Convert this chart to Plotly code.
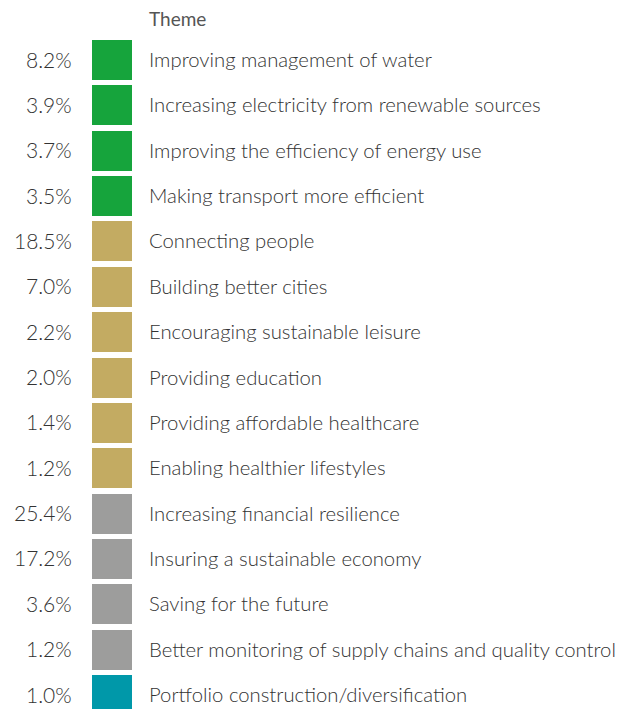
import plotly.graph_objects as go

# Portfolio themes, their share of assets and the group each belongs to
themes = [
    "Improving management of water",
    "Increasing electricity from renewable sources",
    "Improving the efficiency of energy use",
    "Making transport more efficient",
    "Connecting people",
    "Building better cities",
    "Encouraging sustainable leisure",
    "Providing education",
    "Providing affordable healthcare",
    "Enabling healthier lifestyles",
    "Increasing financial resilience",
    "Insuring a sustainable economy",
    "Saving for the future",
    "Better monitoring of supply chains and quality control",
    "Portfolio construction/diversification",
]
shares = [8.2, 3.9, 3.7, 3.5, 18.5, 7.0, 2.2, 2.0, 1.4, 1.2, 25.4, 17.2, 3.6, 1.2, 1.0]
groups = ["env"] * 4 + ["social"] * 6 + ["finance"] * 4 + ["other"]
group_colors = {"env": "#16a43c", "social": "#c3ab62", "finance": "#9d9d9c", "other": "#0098a9"}

W, H = 627, 709
row_top, row_step = 60.0, 45.36
rows = list(range(len(themes)))

FONT = "Lato"
TEXT = "#333333"

fig = go.Figure()

# colour swatch per row
fig.add_trace(go.Bar(
    y=rows, x=[40] * len(rows), base=[92] * len(rows), orientation="h",
    width=40 / row_step,
    marker=dict(color=[group_colors[g] for g in groups], line=dict(width=0)),
    hoverinfo="skip", showlegend=False,
))

# share labels (right aligned, left of the swatches) and theme names
for r, v, name in zip(rows, shares, themes):
    fig.add_annotation(
        x=74, y=r, xref="x", yref="y", text=f"{v:.1f}%", showarrow=False,
        xanchor="right", yanchor="middle", yshift=1,
        font=dict(family=FONT, size=21, color=TEXT, weight=300),
    )
    fig.add_annotation(
        x=147, y=r, xref="x", yref="y", text=name, showarrow=False,
        xanchor="left", yanchor="middle", yshift=1,
        font=dict(family=FONT, size=20.3, color=TEXT, weight=300),
    )

fig.add_annotation(
    x=147, y=-1, xref="x", yref="y", text="Theme", showarrow=False,
    xanchor="left", yanchor="middle", yshift=-4,
    font=dict(family=FONT, size=19, color="#555555", weight=400),
)

fig.update_layout(
    width=W, height=H, margin=dict(l=0, r=0, t=0, b=0),
    paper_bgcolor="white", plot_bgcolor="white",
    xaxis=dict(range=[0, W], visible=False, fixedrange=True),
    yaxis=dict(range=[(H - row_top) / row_step, -row_top / row_step],
               visible=False, fixedrange=True),
    bargap=0,
)

fig.write_html("out.html")
